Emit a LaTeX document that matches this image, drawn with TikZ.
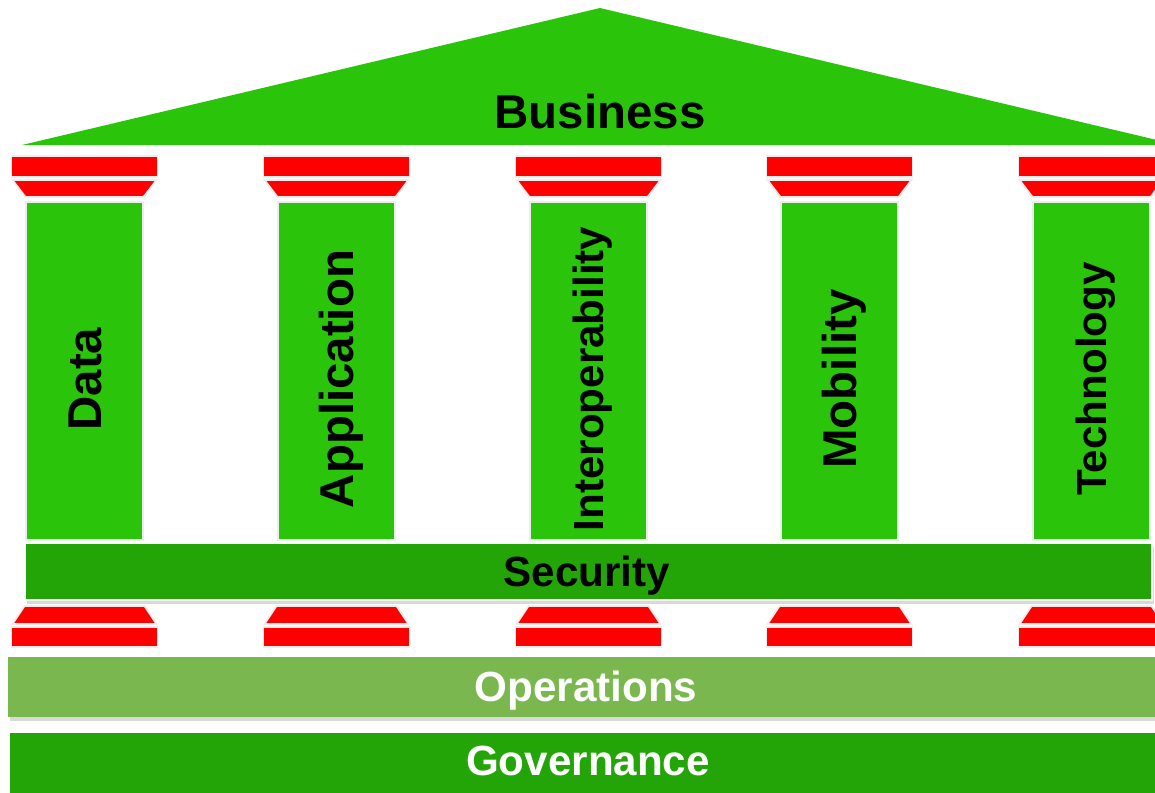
\documentclass[tikz,border=0pt]{standalone}
\usepackage{fontspec}
\setmainfont{Liberation Sans}
\usetikzlibrary{shadows}

\definecolor{roofgreen}{HTML}{2AC50A}
\definecolor{pillargreen}{HTML}{2AC50A}
\definecolor{bardark}{HTML}{24A507}
\definecolor{barlight}{HTML}{7AB74F}
\definecolor{capitalred}{HTML}{FF0000}

\begin{document}
\begin{tikzpicture}[x=0.02cm, y=-0.02cm,
    capital/.style={fill=capitalred, draw=black!7, line width=1pt},
    pillar/.style={fill=pillargreen, draw=black!7, line width=1pt},
    biglabel/.style={font=\bfseries\fontsize{27}{32}\selectfont, text height=19.3pt, text depth=0pt, inner sep=0pt},
    smalllabel/.style={font=\bfseries\fontsize{24}{29}\selectfont, text height=17.2pt, text depth=0pt, inner sep=0pt},
    barshadow/.style={drop shadow={shadow xshift=1pt, shadow yshift=-2pt, opacity=0.3}}]
    \useasboundingbox (0,0) rectangle (1155,792);

    % Roof
    \fill[roofgreen] (22,145) -- (600,8) -- (1178,145) -- cycle;
    \node[biglabel] (business) at (600,112) {Business};

    % Pillars with their capitals and bases
    \foreach \cx/\name/\txt/\sz in {84.5/data/Data/biglabel, 336.5/app/Application/biglabel,
        588.5/interop/Interoperability/smalllabel, 839.5/mobility/Mobility/biglabel,
        1091.5/tech/Technology/smalllabel} {
        \draw[capital] (\cx-73,156) rectangle (\cx+73,177);
        \draw[capital] (\cx-72,180) -- (\cx+72,180) -- (\cx+59,197) -- (\cx-59,197) -- cycle;
        \draw[pillar] (\cx-58.5,202) rectangle (\cx+58.5,540);
        \node[\sz, rotate=90] (\name) at (\cx,379) {\txt};
        \draw[capital] (\cx-60,606) -- (\cx+60,606) -- (\cx+72,624) -- (\cx-72,624) -- cycle;
        \draw[capital] (\cx-73,627) rectangle (\cx+73,647);
    }

    % Security bar
    \draw[fill=bardark, draw=white, line width=1pt, barshadow] (25,543) rectangle (1152,600);
    \node[smalllabel] (security) at (587,571.5) {Security};

    % Operations and governance
    \fill[barlight, barshadow] (8,657) rectangle (1170,717);
    \node[smalllabel, text=white] (operations) at (586,686.5) {Operations};
    \fill[bardark] (10,733) rectangle (1170,800);
    \node[smalllabel, text=white] (governance) at (588,760.5) {Governance};
\end{tikzpicture}
\end{document}
